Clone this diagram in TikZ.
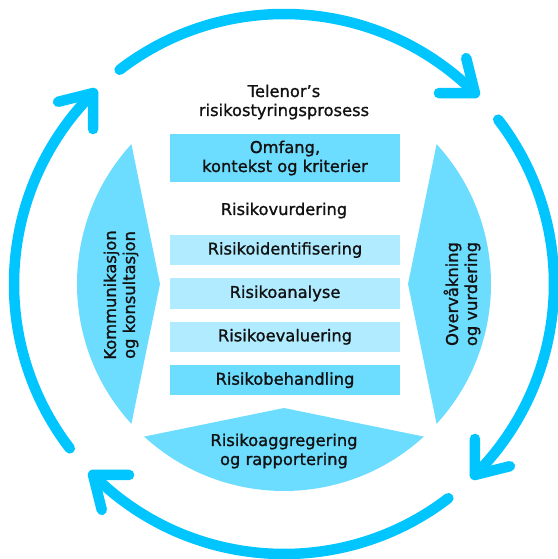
\documentclass[tikz,border=0pt]{standalone}
\usepackage{fontspec}
\setmainfont{DejaVu Sans}[BoldFont={DejaVu Sans}, BoldFeatures={FakeBold=1.2}]
\usetikzlibrary{positioning}

\definecolor{ringblue}{RGB}{0,197,255}
\definecolor{wedgeblue}{RGB}{108,221,255}
\definecolor{paleblue}{RGB}{176,235,255}
\definecolor{inktext}{RGB}{17,17,17}

\begin{document}
\begin{tikzpicture}[x=1pt, y=1pt,
    every node/.style={text=inktext, font=\fontsize{16.3}{19}\selectfont\bfseries, align=center},
    ring/.style={line width=10.5pt, draw=ringblue, line cap=round, line join=round},
    wedge/.style={fill=wedgeblue},
    stage/.style={minimum width=230pt, minimum height=30.5pt, inner sep=0pt},
    node distance=12.5pt]
        \useasboundingbox (-284,-275) rectangle (273,284);

        % arrow tips on the ring
        \coordinate (tipNE) at (45:270);
        \coordinate (tipSE) at (-45:270);
        \coordinate (tipSW) at (-135:270);
        \coordinate (tipNW) at (135:270);

        % the four arcs of the ring
        \draw[ring] (127.5:270) arc[start angle=127.5, end angle=45, radius=270];
        \draw[ring] (tipNE) ++(104:36) -- (tipNE) -- ++(180:36);
        \draw[ring] (37.5:270) arc[start angle=37.5, end angle=-45, radius=270];
        \draw[ring] (tipSE) ++(14:36) -- (tipSE) -- ++(90:36);
        \draw[ring] (-52.5:270) arc[start angle=-52.5, end angle=-135, radius=270];
        \draw[ring] (tipSW) ++(-76:36) -- (tipSW) -- ++(0:36);
        \draw[ring] (217.5:270) arc[start angle=217.5, end angle=135, radius=270];
        \draw[ring] (tipNW) ++(194:36) -- (tipNW) -- ++(270:36);

        % wedges
        \fill[wedge] (137.5:207) arc[start angle=137.5, end angle=222.5, radius=207] -- (180:124) -- cycle;
        \fill[wedge] (-42.5:207) arc[start angle=-42.5, end angle=42.5, radius=207] -- (0:124) -- cycle;
        \fill[wedge] (-132.5:207) arc[start angle=-132.5, end angle=-47.5, radius=207] -- (-90:124) -- cycle;

        \node[rotate=90] (komm) at (-163,-11) {Kommunikasjon\\og konsultasjon};
        \node[rotate=90] (overv) at (178,-10) {Overvåkning\\og vurdering};
        \node (aggr) at (0,-167) {Risikoaggregering\\og rapportering};

        % process
        \node (title) at (0,182) {Telenor’s\\risikostyringsprosess};
        \node[stage, fill=wedgeblue, minimum height=48pt] (scope) at (1,126) {Omfang,\\kontekst og kriterier};
        \node[anchor=base] (vurd) at (0,69) {Risikovurdering};
        \node[stage, fill=paleblue] (ident) at (1,34) {Risikoidentifisering};
        \node[stage, fill=paleblue, below=of ident] (anal) {Risikoanalyse};
        \node[stage, fill=paleblue, below=of anal] (eval) {Risikoevaluering};
        \node[stage, fill=wedgeblue, below=of eval] (behand) {Risikobehandling};
    \end{tikzpicture}
\end{document}
